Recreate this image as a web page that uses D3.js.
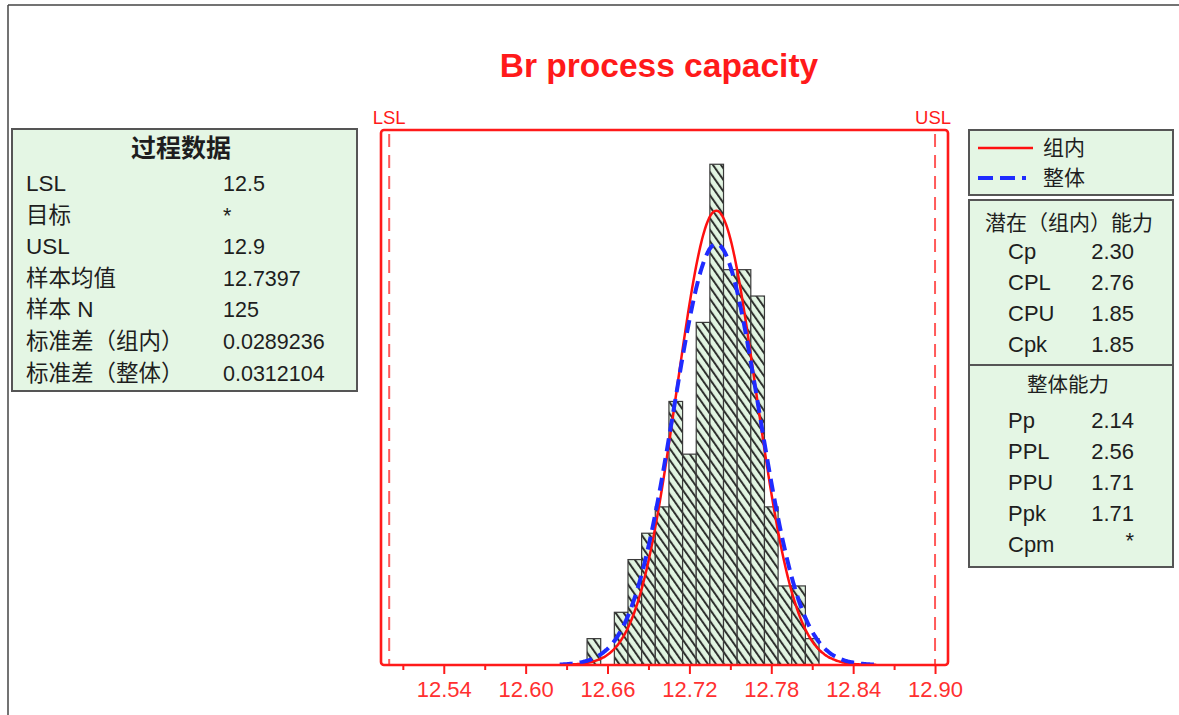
<!DOCTYPE html>
<html>
<head>
<meta charset="utf-8">
<script src="https://cdn.jsdelivr.net/npm/d3@7"></script>
<style>
  html, body { margin: 0; padding: 0; background: #ffffff; }
  svg { display: block; }
  text { font-family: "Liberation Sans", Arial, "Noto Sans CJK SC", sans-serif; }
</style>
</head>
<body>
<svg id="chart" width="1179" height="715"></svg>
<script>
// ---- Histogram data: bin centres (width 0.01) and counts ----
const binCenters = [12.65, 12.66, 12.67, 12.68, 12.69, 12.70, 12.71, 12.72, 12.73,
                    12.74, 12.75, 12.76, 12.77, 12.78, 12.79, 12.80, 12.81];
const binCounts  = [1, 0, 2, 4, 5, 6, 10, 8, 13, 19, 15, 15, 14, 6, 3, 3, 1];
const binWidth = 0.01;

// ---- Process statistics ----
const lsl = 12.5;
const usl = 12.9;
const sampleMean = 12.7397;
const sampleN = 125;
const sdWithin = 0.0289236;
const sdOverall = 0.0312104;

// ---- Axis ticks ----
const majorTicks = [12.54, 12.60, 12.66, 12.72, 12.78, 12.84, 12.90];
const majorTickLabels = ["12.54", "12.60", "12.66", "12.72", "12.78", "12.84", "12.90"];
const minorTicks = [12.51, 12.57, 12.63, 12.69, 12.75, 12.81, 12.87];

// ---- Side panels ----
const processTitle = "过程数据";
const processLabels = ["LSL", "目标", "USL", "样本均值", "样本 N", "标准差（组内）", "标准差（整体）"];
const processValues = ["12.5", "*", "12.9", "12.7397", "125", "0.0289236", "0.0312104"];

const legendLabels = ["组内", "整体"];

const potentialTitle = "潜在（组内）能力";
const potentialLabels = ["Cp", "CPL", "CPU", "Cpk"];
const potentialValues = ["2.30", "2.76", "1.85", "1.85"];

const overallTitle = "整体能力";
const overallLabels = ["Pp", "PPL", "PPU", "Ppk", "Cpm"];
const overallValues = ["2.14", "2.56", "1.71", "1.71", "*"];

const chartTitle = "Br process capacity";

// ---- Drawing ----
const svg = d3.select("#chart");
const RED = "#ff1a1a";
const BLUE = "#1f2bff";
const INK = "#1e1e1e";
const PANEL_FILL = "#e4f6e4";
const PANEL_STROKE = "#555555";

// outer border lines of the graph window
svg.append("line").attr("x1", 8).attr("y1", 5).attr("x2", 1179).attr("y2", 5)
  .attr("stroke", "#444").attr("stroke-width", 1.5);
svg.append("line").attr("x1", 8).attr("y1", 5).attr("x2", 8).attr("y2", 715)
  .attr("stroke", "#444").attr("stroke-width", 1.5);

// title
svg.append("text")
  .attr("x", 659).attr("y", 77)
  .attr("text-anchor", "middle")
  .attr("font-size", 33.5).attr("font-weight", "bold")
  .attr("fill", RED)
  .text(chartTitle);

// plot frame geometry
const plot = { left: 381, right: 948, top: 130, bottom: 665 };

const x = d3.scaleLinear().domain([12.494, 12.9095]).range([plot.left, plot.right]);
const y = d3.scaleLinear().domain([0, 20.3]).range([plot.bottom, plot.top]);

// hatch pattern for the bars
const defs = svg.append("defs");
const pat = defs.append("pattern")
  .attr("id", "hatch")
  .attr("patternUnits", "userSpaceOnUse")
  .attr("width", 6.6).attr("height", 10)
  .attr("patternTransform", "rotate(-35)");
pat.append("rect").attr("width", 6.6).attr("height", 10).attr("fill", "#e2f5e2");
pat.append("line").attr("x1", 1).attr("y1", 0).attr("x2", 1).attr("y2", 10)
  .attr("stroke", "#2e302e").attr("stroke-width", 2);

const clip = defs.append("clipPath").attr("id", "plotClip");
clip.append("rect").attr("x", plot.left).attr("y", plot.top)
  .attr("width", plot.right - plot.left).attr("height", plot.bottom - plot.top);

// histogram bars
const bars = binCenters.map((c, i) => ({ c, n: binCounts[i] })).filter(d => d.n > 0);
svg.append("g").selectAll("rect")
  .data(bars)
  .join("rect")
  .attr("x", d => x(d.c - binWidth / 2))
  .attr("width", d => x(d.c + binWidth / 2) - x(d.c - binWidth / 2))
  .attr("y", d => y(d.n))
  .attr("height", d => y(0) - y(d.n))
  .attr("fill", "url(#hatch)")
  .attr("stroke", "#3a3a3a")
  .attr("stroke-width", 1.2);

// specification limit lines
[lsl, usl].forEach(v => {
  svg.append("line")
    .attr("x1", x(v)).attr("x2", x(v))
    .attr("y1", plot.top + 4).attr("y2", plot.bottom)
    .attr("stroke", "#ff5a5a").attr("stroke-width", 2)
    .attr("stroke-dasharray", "13,8");
});
svg.append("text").attr("x", x(lsl)).attr("y", 124).attr("text-anchor", "middle")
  .attr("font-size", 18.5).attr("fill", RED).text("LSL");
svg.append("text").attr("x", x(usl) - 2).attr("y", 124).attr("text-anchor", "middle")
  .attr("font-size", 18.5).attr("fill", RED).text("USL");

// fitted normal curves (within and overall), scaled to counts
const scaleK = sampleN * binWidth;
function normalCurve(sd) {
  const xs = d3.range(12.625, 12.8575, 0.001);
  return xs.map(v => [v, scaleK * Math.exp(-0.5 * ((v - sampleMean) / sd) ** 2) / (sd * Math.sqrt(2 * Math.PI))]);
}
const line = d3.line().x(d => x(d[0])).y(d => y(d[1])).curve(d3.curveBasis);
const curves = svg.append("g").attr("clip-path", "url(#plotClip)");
curves.append("path").datum(normalCurve(sdWithin))
  .attr("d", line).attr("fill", "none")
  .attr("stroke", "#ff1010").attr("stroke-width", 2.5);
curves.append("path").datum(normalCurve(sdOverall))
  .attr("d", line).attr("fill", "none")
  .attr("stroke", BLUE).attr("stroke-width", 4)
  .attr("stroke-dasharray", "13,7");

// plot frame
svg.append("rect")
  .attr("x", plot.left).attr("y", plot.top)
  .attr("width", plot.right - plot.left).attr("height", plot.bottom - plot.top)
  .attr("rx", 3)
  .attr("fill", "none").attr("stroke", RED).attr("stroke-width", 2.6);

// bottom axis: major ticks with labels, minor ticks without
const axisMajor = d3.axisBottom(x).tickValues(majorTicks)
  .tickFormat((d, i) => majorTickLabels[i]).tickSize(9).tickSizeOuter(0);
const gMajor = svg.append("g").attr("transform", `translate(0,${plot.bottom})`).call(axisMajor);
gMajor.select(".domain").remove();
gMajor.selectAll(".tick line").attr("stroke", RED).attr("stroke-width", 2);
gMajor.selectAll(".tick text")
  .attr("fill", "#ff3030").attr("font-size", 22)
  .attr("font-family", "'Liberation Sans', Arial, sans-serif")
  .attr("dy", null).attr("y", 32);

const axisMinor = d3.axisBottom(x).tickValues(minorTicks).tickFormat("").tickSize(5).tickSizeOuter(0);
const gMinor = svg.append("g").attr("transform", `translate(0,${plot.bottom})`).call(axisMinor);
gMinor.select(".domain").remove();
gMinor.selectAll(".tick line").attr("stroke", RED).attr("stroke-width", 2);

// ---- Process data panel ----
function panel(x0, y0, w, h) {
  svg.append("rect").attr("x", x0).attr("y", y0).attr("width", w).attr("height", h)
    .attr("fill", PANEL_FILL).attr("stroke", PANEL_STROKE).attr("stroke-width", 2);
}
panel(12, 129, 345, 262);
svg.append("text").attr("x", 181).attr("y", 157).attr("text-anchor", "middle")
  .attr("font-size", 25).attr("font-weight", "bold").attr("fill", INK).text(processTitle);
processLabels.forEach((lab, i) => {
  const yy = 191 + i * 31.6;
  svg.append("text").attr("x", 26).attr("y", yy).attr("font-size", 22.5)
    .attr("fill", INK).text(lab);
  svg.append("text").attr("x", 223).attr("y", yy).attr("font-size", 21.5)
    .attr("fill", INK).text(processValues[i]);
});

// ---- Legend panel ----
panel(969, 130, 204, 65);
svg.append("line").attr("x1", 978).attr("x2", 1033).attr("y1", 148).attr("y2", 148)
  .attr("stroke", "#ff1010").attr("stroke-width", 2.5);
svg.append("line").attr("x1", 978).attr("x2", 1034).attr("y1", 178).attr("y2", 178)
  .attr("stroke", BLUE).attr("stroke-width", 4).attr("stroke-dasharray", "15,7,15,7,4");
legendLabels.forEach((lab, i) => {
  svg.append("text").attr("x", 1043).attr("y", 155 + i * 30).attr("font-size", 21)
    .attr("fill", INK).text(lab);
});

// ---- Capability panels ----
panel(969, 200, 204, 165);
svg.append("text").attr("x", 1069).attr("y", 230).attr("text-anchor", "middle")
  .attr("font-size", 21).attr("fill", INK).text(potentialTitle);
potentialLabels.forEach((lab, i) => {
  const yy = 259 + i * 31;
  svg.append("text").attr("x", 1008).attr("y", yy).attr("font-size", 22)
    .attr("fill", INK).text(lab);
  svg.append("text").attr("x", 1134).attr("y", yy).attr("text-anchor", "end").attr("font-size", 22)
    .attr("fill", INK).text(potentialValues[i]);
});

panel(969, 365, 204, 202);
svg.append("text").attr("x", 1068).attr("y", 392).attr("text-anchor", "middle")
  .attr("font-size", 20.5).attr("fill", INK).text(overallTitle);
overallLabels.forEach((lab, i) => {
  const yy = 428 + i * 31;
  svg.append("text").attr("x", 1008).attr("y", yy).attr("font-size", 22)
    .attr("fill", INK).text(lab);
  svg.append("text").attr("x", 1134).attr("y", overallValues[i] === "*" ? yy - 4 : yy)
    .attr("text-anchor", "end").attr("font-size", 22)
    .attr("fill", INK).text(overallValues[i]);
});
</script>
</body>
</html>
